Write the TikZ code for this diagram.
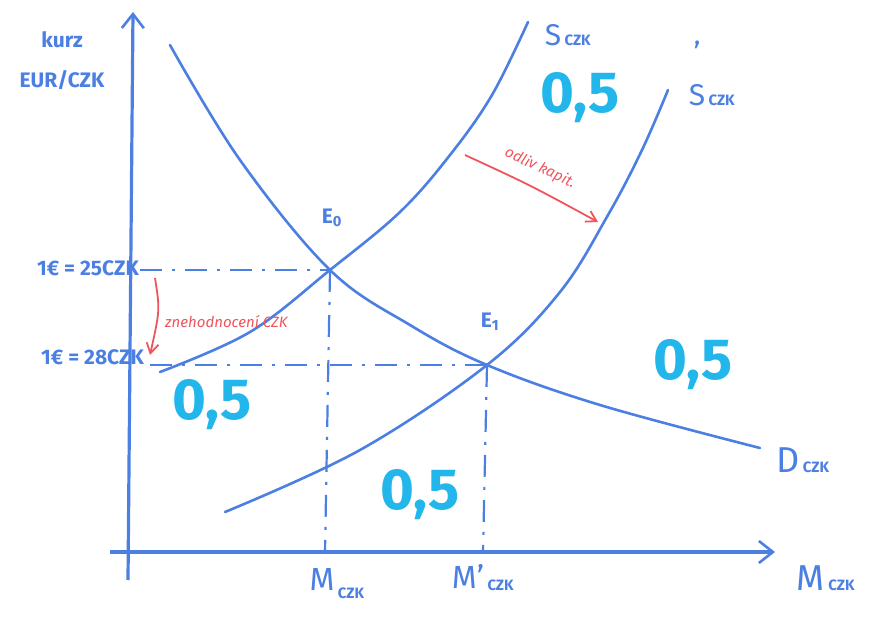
\documentclass[tikz,border=0pt]{standalone}
\usepackage{fontspec}
\setmainfont{Fira Sans}
\usetikzlibrary{arrows.meta}
\definecolor{pen}{HTML}{4C7FE2}
\definecolor{cyanpen}{HTML}{22B6EA}
\definecolor{redpen}{HTML}{F0545C}
\begin{document}
\begin{tikzpicture}[x=1pt,y=-1pt,
  curve/.style={pen,line width=2.6pt,line cap=round},
  axis/.style={pen,line width=3.2pt,-{Straight Barb[length=14pt,width=22pt,line width=2.6pt]}},
  guide/.style={pen,line width=2.2pt,dash pattern=on 22pt off 10pt on 3pt off 10pt},
  lbl/.style={text=pen,font=\fontsize{21}{21}\selectfont\bfseries,inner sep=1pt},
  sub/.style={text=pen,font=\fontsize{15}{15}\selectfont\bfseries,inner sep=0pt,anchor=base west},
  half/.style={text=cyanpen,font=\fontsize{58}{58}\selectfont\bfseries},
  note/.style={text=redpen,font=\fontsize{15}{15}\selectfont\itshape,inner sep=0pt},
  redarrow/.style={redpen,line width=1.8pt,-{Straight Barb[length=10pt,width=12pt]}}]
\useasboundingbox (0,0) rectangle (884,623);
% axes
\coordinate (O) at (128,552);
\coordinate (ytop) at (133,12);
\coordinate (xend) at (775,552);
\coordinate (xstart) at (110,552);
\coordinate (ystart) at (128,580);
\draw[axis] (ystart) -- (ytop);
\draw[axis] (xstart) -- (xend);
% equilibria
\coordinate (E0) at (330,270);
\coordinate (E1) at (487,365);
\coordinate (y0) at (140,270);
\coordinate (y1) at (150,365);
\coordinate (m0) at (325,552);
\coordinate (m1) at (483,552);
\draw[guide] (y0) -- (E0);
\draw[guide] (y1) -- (E1);
\draw[guide] (E0) -- (m0);
\draw[guide] (E1) -- (m1);
% curves
\draw[curve] plot[smooth,tension=0.6] coordinates {(170,45) (240,160) (E0) (410,325) (E1) (600,405) (760,448)};
\draw[curve] plot[smooth,tension=0.6] coordinates {(160,372) (250,332) (E0) (400,212) (450,155) (492,95) (528,22)};
\draw[curve] plot[smooth,tension=0.6] coordinates {(225,512) (360,450) (E1) (560,292) (608,215) (642,150) (668,90)};
% labels
\node[lbl] (ylab1) at (62,40) {kurz};
\node[lbl] (ylab2) at (62,80) {EUR/CZK};
\node[lbl,anchor=east] (p0) at (140,268) {1€ = 25CZK};
\node[lbl,anchor=east] (p1) at (145,357) {1€ = 28CZK};
\node[lbl] (e0l) at (332,218) {E\textsubscript{0}};
\node[lbl] (e1l) at (490,322) {E\textsubscript{1}};
\node[lbl,font=\fontsize{30}{30}\selectfont,anchor=base] (sl) at (553,46) {S};
\node[sub] (slsub) at ([xshift=2pt]sl.base east) {CZK};
\node[lbl,font=\fontsize{30}{30}\selectfont,anchor=base] (spl) at (697,106) {S};
\node[lbl,font=\fontsize{30}{30}\selectfont] (sprime) at (697,52) {'};
\node[sub] (splsub) at ([xshift=2pt]spl.base east) {CZK};
\node[lbl,font=\fontsize{36}{36}\selectfont,anchor=base] (dl) at (788,472) {D};
\node[sub] (dlsub) at ([xshift=2pt]dl.base east) {CZK};
\node[lbl,font=\fontsize{36}{36}\selectfont,anchor=base] (ml) at (810,590) {M};
\node[sub] (mlsub) at ([xshift=3pt]ml.base east) {CZK};
\node[lbl,font=\fontsize{32}{32}\selectfont,anchor=base] (m0l) at (322,590) {M};
\node[sub] (m0sub) at ([xshift=2pt,yshift=-8pt]m0l.base east) {CZK};
\node[lbl,font=\fontsize{32}{32}\selectfont,anchor=base] (m1l) at (468,588) {M'};
\node[sub] (m1sub) at ([xshift=2pt,yshift=-2pt]m1l.base east) {CZK};
% 0,5
\node[half] (h1) at (580,98) {0,5};
\node[half] (h2) at (693,365) {0,5};
\node[half] (h3) at (212,405) {0,5};
\node[half] (h4) at (420,495) {0,5};
% red notes
\coordinate (oa) at (465,155);
\coordinate (ob) at (598,222);
\draw[redarrow] (oa) .. controls (530,185) .. (ob);
\node[note,rotate=-25] (odl) at (540,168) {odliv kapit.};
\coordinate (za) at (155,278);
\coordinate (zb) at (150,355);
\draw[redarrow] (za) .. controls (160,310) .. (zb);
\node[note,anchor=west] (zn) at (165,322) {znehodnocení CZK};
\end{tikzpicture}
\end{document}
